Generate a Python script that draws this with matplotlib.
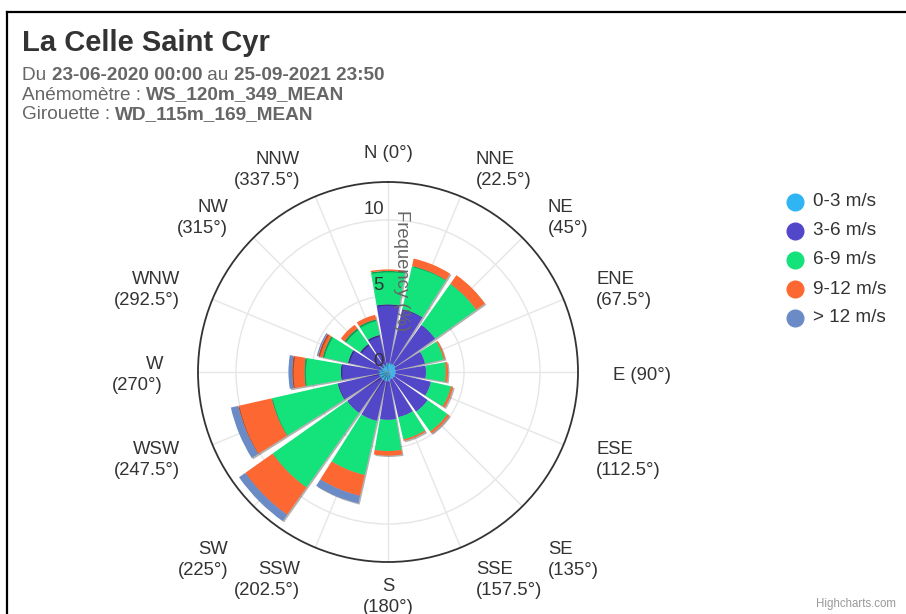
import numpy as np
import matplotlib
matplotlib.use('Agg')
import matplotlib.pyplot as plt
import matplotlib.patheffects as pe
from matplotlib.lines import Line2D

plt.rcParams['font.family'] = ['Liberation Sans', 'DejaVu Sans']

# wind directions (degrees from north, clockwise)
directions = ['N', 'NNE', 'NE', 'ENE', 'E', 'ESE', 'SE', 'SSE',
              'S', 'SSW', 'SW', 'WSW', 'W', 'WNW', 'NW', 'NNW']
angles = [0, 22.5, 45, 67.5, 90, 112.5, 135, 157.5,
          180, 202.5, 225, 247.5, 270, 292.5, 315, 337.5]

speed_labels = ['0-3 m/s', '3-6 m/s', '6-9 m/s', '9-12 m/s', '> 12 m/s']
colors = ['#2fb4f4', '#5347c9', '#14e27a', '#fd6832', '#6a8bc6']

# frequency (%) per direction for each speed class
f_0_3 = [0.6, 0.6, 0.6, 0.5, 0.5, 0.5, 0.5, 0.5,
         0.6, 0.6, 0.6, 0.6, 0.6, 0.5, 0.5, 0.5]
f_3_6 = [3.85, 3.65, 3.2, 2.0, 2.0, 2.4, 2.7, 2.55,
         2.55, 2.7, 2.7, 2.8, 2.5, 2.2, 1.75, 2.0]
f_6_9 = [2.2, 2.9, 3.3, 1.25, 1.3, 1.35, 1.6, 1.5,
         2.05, 3.65, 6.0, 4.45, 2.4, 1.7, 1.25, 1.05]
f_9_12 = [0.1, 0.5, 0.7, 0.1, 0.15, 0.15, 0.15, 0.1,
          0.3, 1.4, 2.2, 2.25, 0.8, 0.3, 0.3, 0.3]
f_12p = [0.0, 0.0, 0.0, 0.0, 0.0, 0.0, 0.0, 0.0,
         0.0, 0.5, 0.5, 0.5, 0.25, 0.1, 0.0, 0.0]

W, H = 906, 614
fig = plt.figure(figsize=(W / 100, H / 100), dpi=100)

# polar area: centre (388, 372) px, radius 190 px
cx, cy, R = 388, 372, 190
ax = fig.add_axes([(cx - R) / W, (H - cy - R) / H, 2 * R / W, 2 * R / H],
                  projection='polar')
ax.set_theta_zero_location('N')
ax.set_theta_direction(-1)
rmax = 12.5
ax.set_ylim(0, rmax)

theta = np.radians(angles)
ax.set_xticks(theta)
ax.set_xticklabels([])
ax.set_yticks([5, 10])
ax.set_yticklabels([])
ax.grid(True, color='#e6e6e6', lw=1)
ax.set_axisbelow(True)
ax.spines['polar'].set_color('#333333')
ax.spines['polar'].set_linewidth(1.3)

width = np.radians(22.5 - 3.0)
shadow = [pe.SimplePatchShadow(offset=(1.0, -1.0), shadow_rgbFace='k', alpha=0.3),
          pe.Normal()]
series = [f_0_3, f_3_6, f_6_9, f_9_12, f_12p]
bottom = np.zeros(len(angles))
for vals, col in zip(series, colors):
    vals = np.array(vals)
    ax.bar(theta, vals, width=width, bottom=bottom, color=col, lw=0,
           path_effects=shadow, zorder=2)
    bottom += vals

# direction labels around the circle
lab_r = rmax * 222 / R
extra_dy = {135: -28, 225: -28}   # SE / SW labels sit lower in the original
for d, a in zip(directions, angles):
    if 20 < a < 160:
        ha, dx = 'left', 3
    elif 200 < a < 340:
        ha, dx = 'right', -3
    else:
        ha, dx = 'center', 0
    if a in (0, 90):
        txt = '%s (%g°)' % (d, a)
    else:
        txt = '%s\n(%g°)' % (d, a)
    ax.annotate(txt, xy=(np.radians(a), lab_r), xytext=(dx, -3 + extra_dy.get(a, 0)),
                textcoords='offset pixels', ha=ha, va='center', multialignment=ha,
                fontsize=13.3, color='#333333', linespacing=1.25,
                annotation_clip=False)

# radial tick labels
for v in [0, 5, 10]:
    ax.annotate(str(v), xy=(0, v), xytext=(-4, 10), textcoords='offset pixels',
                ha='right', va='center', fontsize=13.3, color='#333333', zorder=5)

ax.annotate('Frequency (%)', xy=(0, 10.65), xytext=(5, 0), textcoords='offset pixels',
            rotation=-90, rotation_mode='anchor', ha='left', va='bottom',
            fontsize=13.3, color='#666666', zorder=4)

# title and subtitle
fig.text(22 / W, 1 - 51 / H, 'La Celle Saint Cyr', fontsize=21, fontweight='bold',
         color='#333333', va='baseline', ha='left')

renderer = fig.canvas.get_renderer()
sub_lines = [
    [('Du ', False), ('23-06-2020 00:00', True), (' au ', False), ('25-09-2021 23:50', True)],
    [('Anémomètre : ', False), ('WS_120m_349_MEAN', True)],
    [('Girouette : ', False), ('WD_115m_169_MEAN', True)],
]
for i, parts in enumerate(sub_lines):
    x = 22
    y = 80 + i * 19.5
    for txt, bold in parts:
        t = fig.text(x / W, 1 - y / H, txt, fontsize=13.7, color='#666666',
                     fontweight='bold' if bold else 'normal', va='baseline', ha='left')
        x += t.get_window_extent(renderer=renderer).width

# legend
leg_y = [202, 231, 260, 289, 318]
for lab, col, y in zip(speed_labels, colors, leg_y):
    fig.add_artist(Line2D([795 / W], [1 - y / H], marker='o', markersize=12,
                          color=col, lw=0, transform=fig.transFigure))
    fig.text(813 / W, 1 - y / H, lab, fontsize=13.6, color='#333333',
             va='center', ha='left')

# chart frame
fig.add_artist(Line2D([7 / W, 1], [1 - 12 / H, 1 - 12 / H], color='black', lw=1.6,
                      transform=fig.transFigure))
fig.add_artist(Line2D([7 / W, 7 / W], [1 - 12 / H, 0], color='black', lw=1.6,
                      transform=fig.transFigure))

fig.text(896 / W, 1 - 604 / H, 'Highcharts.com', fontsize=8.3, color='#999999',
         ha='right', va='center')

fig.savefig('out.png', dpi=100)
